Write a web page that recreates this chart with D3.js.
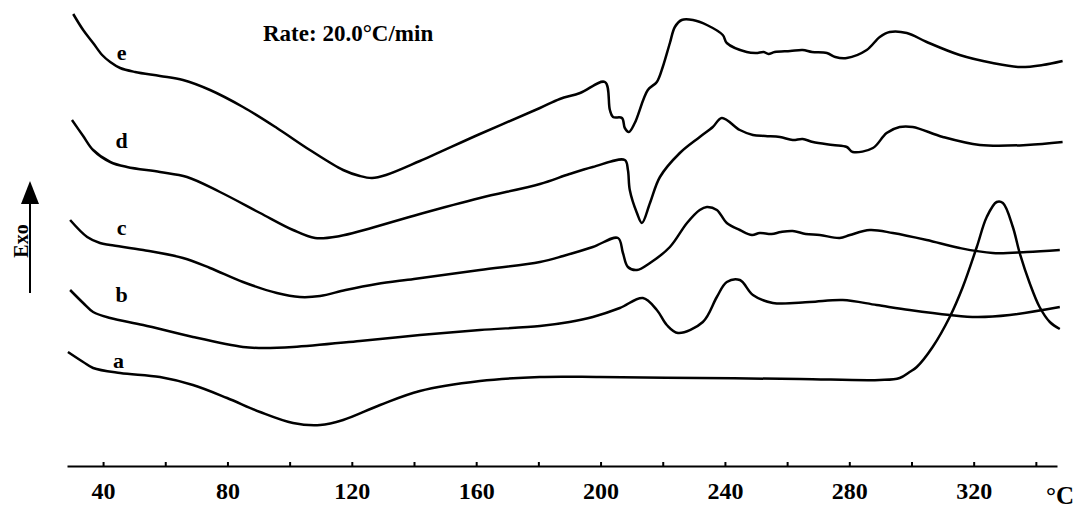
<!DOCTYPE html>
<html>
<head>
<meta charset="utf-8">
<script src="https://cdn.jsdelivr.net/npm/d3@7"></script>
<style>
  body { margin: 0; background: #fff; }
  svg text { font-family: "Liberation Serif", "Times New Roman", serif; font-weight: bold; fill: #000; }
</style>
</head>
<body>
<div class="dsc-container"></div>
<script>
// DSC traces, temperature in °C, heat flow in arbitrary units (exo up)
const curveA = [[28.7,118],[33.6,108],[36.8,102],[45.5,97],[58.3,93],[68.9,85],[79.9,72],[90.5,58],[101.1,47],
  [109.8,45],[117.2,50],[129.1,65],[141.9,79],[161.2,89],[180.5,93],[199.8,93],[231.9,92],[264.1,91],
  [289.8,90],[296.2,92],[299.4,98],[301.7,103],[306.8,123],[312.3,153],[316.5,183],[321.0,223],
  [324.2,253],[327.4,268],[329.4,267],[332.6,243],[334.8,217],[338.0,187],[341.2,163],[344.5,148],[347.7,141]];

const curveB = [[29.4,180],[33.6,167],[36.8,158],[42.3,152],[52.9,145],[68.9,133],[85.0,123],[90.5,122],[101.1,123],
  [122.6,129],[141.9,135],[161.2,140],[180.5,144],[190.0,148],[197.5,153],[206.2,162],[213.6,172],
  [218.1,160],[221.3,145],[224.9,137],[232.9,148],[237.4,173],[240.6,188],[244.8,190],[249.0,175],
  [255.4,167],[267.3,168],[277.9,170],[288.8,165],[299.4,160],[312.3,155],[321.0,153],[331.6,155],[347.7,163]];

const curveC = [[29.4,250],[34.9,233],[39.0,227],[42.3,225],[52.9,220],[65.7,212],[74.4,202],[85.0,188],
  [95.9,177],[103.3,173],[109.8,174],[118.0,180],[128.0,186],[140.0,191],[161.2,200],[180.5,208],[188.0,214],
  [197.5,223],[205.6,232],[207.2,217],[208.8,203],[211.7,200],[215.9,207],[222.3,223],[227.8,247],
  [231.9,260],[234.2,263],[237.4,260],[240.6,247],[244.8,240],[248.7,235],[251.2,237],[255.0,236],
  [258.0,238],[261.8,239],[266.0,236],[270.5,235],[276.9,232],[280.2,235],[286.6,240],[294.0,237],
  [304.9,230],[315.5,222],[326.1,217],[337.1,218],[347.7,220]];

const curveD = [[30.0,350],[33.6,334],[36.8,320],[42.3,308],[47.7,303],[58.3,298],[67.0,293],[77.6,278],[90.5,257],
  [101.1,240],[108.2,232],[116.2,234],[124.0,240],[141.9,256],[161.2,272],[180.5,286],[190.0,296],
  [197.5,303],[207.8,310],[208.8,300],[209.4,280],[211.7,257],[213.3,247],[215.9,267],[219.1,293],
  [225.5,317],[231.9,333],[236.1,343],[239.0,352],[244.8,340],[249.0,335],[253.0,334],[257.7,333],
  [261.8,330],[265.0,331],[268.3,328],[274.7,325],[279.2,323],[281.1,318],[287.6,322],[292.0,337],
  [296.2,343],[300.4,343],[310.1,333],[322.0,325],[337.1,325],[348.6,328]];

const curveE = [[30.4,456],[33.6,440],[36.8,427],[39.7,415],[42.3,408],[45.5,402],[50.3,398],[58.3,394],
  [65.7,390],[74.4,380],[85.0,363],[95.9,342],[106.5,320],[117.2,300],[122.6,294],[126.5,292],[131.0,295],
  [141.9,309],[161.2,336],[180.5,362],[186.9,371],[193.4,377],[201.4,388],[203.0,360],[204.0,353],
  [206.9,352],[207.8,342],[209.1,338],[211.0,347],[215.2,380],[218.1,388],[220.0,403],[222.3,427],
  [223.9,443],[226.1,450],[229.7,450],[234.2,445],[239.3,435],[240.6,427],[247.0,418],[250.0,417],
  [252.5,418],[254.0,416],[256.0,418],[261.0,419],[265.0,420],[268.0,418],[272.8,417],[275.5,413],
  [279.2,412],[285.6,420],[289.8,433],[293.0,438],[298.5,437],[304.9,428],[315.5,415],[326.1,407],
  [334.8,403],[342.2,405],[348.6,409]];

const curveNames = ['a', 'b', 'c', 'd', 'e'];
const curveLabelAt = [[45, 102], [46, 168], [46, 235], [46, 322], [46, 410]]; // [temp, flow] of each letter
const tickTemps = d3.range(40, 341, 20);
const labelTemps = [40, 80, 120, 160, 200, 240, 280, 320];

const width = 1075;
const height = 514;

const svg = d3.select('.dsc-container')
  .append('svg')
  .attr('width', width)
  .attr('height', height);

// scales
const xScale = d3.scaleLinear()
  .domain([28.4, 346.8])
  .range([67, 1057]);

const yScale = d3.scaleLinear()
  .domain([0, 470])
  .range([470, 0]);

// x axis with small upward ticks
const xAxis = d3.axisBottom(xScale)
  .tickValues(tickTemps)
  .tickSizeInner(-4)
  .tickSizeOuter(0)
  .tickPadding(16)
  .tickFormat(d => labelTemps.includes(d) ? d : '');

const axisG = svg.append('g')
  .attr('class', 'x axis')
  .attr('transform', 'translate(0, 466)')
  .call(xAxis);

axisG.select('.domain')
  .attr('stroke', '#000')
  .attr('stroke-width', 2);
axisG.selectAll('.tick line')
  .attr('stroke', '#000')
  .attr('stroke-width', 2);
axisG.selectAll('.tick text')
  .style('font-size', '24px')
  .style('font-family', '"Liberation Serif", serif')
  .style('font-weight', 'bold');

// unit label
svg.append('text')
  .attr('x', xScale(346.8) + 3)
  .attr('y', 504)
  .attr('text-anchor', 'middle')
  .style('font-size', '25px')
  .text('°C');

// draw the traces
const line = d3.line()
  .x(d => xScale(d[0]))
  .y(d => yScale(d[1]))
  .curve(d3.curveCatmullRom.alpha(0.5));

const curves = [curveA, curveB, curveC, curveD, curveE];

svg.selectAll('.trace')
  .data(curves)
  .join('path')
  .attr('class', 'trace')
  .attr('d', line)
  .attr('fill', 'none')
  .attr('stroke', '#000')
  .attr('stroke-width', 2.5)
  .attr('stroke-linejoin', 'round');

// letters next to each trace
svg.selectAll('.trace-label')
  .data(curveNames)
  .join('text')
  .attr('class', 'trace-label')
  .attr('x', (d, i) => xScale(curveLabelAt[i][0]))
  .attr('y', (d, i) => yScale(curveLabelAt[i][1]))
  .attr('text-anchor', 'middle')
  .style('font-size', '22px')
  .text(d => d);

// heating rate note
svg.append('text')
  .attr('x', 263)
  .attr('y', 41)
  .style('font-size', '23px')
  .text('Rate: 20.0°C/min');

// Exo arrow
const arrow = svg.append('g').attr('class', 'exo');
arrow.append('line')
  .attr('x1', 30).attr('x2', 30)
  .attr('y1', 293).attr('y2', 198)
  .attr('stroke', '#000')
  .attr('stroke-width', 2);
arrow.append('path')
  .attr('d', 'M30,181 L21,204 L39,204 Z')
  .attr('fill', '#000');
arrow.append('text')
  .attr('transform', 'translate(28, 241) rotate(-90)')
  .attr('text-anchor', 'middle')
  .style('font-size', '20px')
  .style('text-decoration', 'underline')
  .text('Exo');
</script>
</body>
</html>
